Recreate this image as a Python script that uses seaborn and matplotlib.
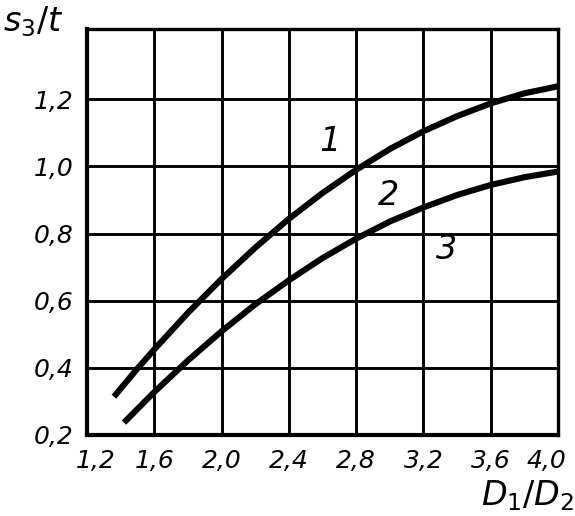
import numpy as np
import pandas as pd
import seaborn as sns
import matplotlib
matplotlib.use("Agg")
import matplotlib.pyplot as plt
from matplotlib.transforms import ScaledTranslation

# curve values (x = D1/D2, y = s3/t)
x_upper = [1.36, 1.50, 1.60, 1.80, 2.00, 2.20, 2.40, 2.60, 2.80, 3.00, 3.20, 3.40, 3.60, 3.80, 4.00]
y_upper = [0.314, 0.398, 0.455, 0.564, 0.665, 0.758, 0.844, 0.921, 0.990, 1.052, 1.105, 1.150, 1.188, 1.218, 1.239]

x_lower = [1.42, 1.60, 1.80, 2.00, 2.20, 2.40, 2.60, 2.80, 3.00, 3.20, 3.40, 3.60, 3.80, 4.00]
y_lower = [0.237, 0.328, 0.422, 0.509, 0.589, 0.661, 0.727, 0.785, 0.836, 0.878, 0.915, 0.945, 0.968, 0.985]

x_ticks = [1.2, 1.6, 2.0, 2.4, 2.8, 3.2, 3.6, 4.0]
y_ticks = [0.2, 0.4, 0.6, 0.8, 1.0, 1.2]
x_ticklabels = ["1,2", "1,6", "2,0", "2,4", "2,8", "3,2", "3,6", "4,0"]
y_ticklabels = ["0,2", "0,4", "0,6", "0,8", "1,0", "1,2"]

curve_labels = ["1", "2", "3"]
curve_label_x = [2.645, 2.99, 3.34]
curve_label_y = [1.075, 0.915, 0.752]

sns.set_style("white")
plt.rcParams['font.family'] = ['DejaVu Sans']
plt.rcParams['mathtext.fontset'] = 'dejavusans'
plt.rcParams['text.color'] = 'black'
plt.rcParams['xtick.color'] = 'black'
plt.rcParams['ytick.color'] = 'black'

df_upper = pd.DataFrame({'x': x_upper, 'y': y_upper})
df_lower = pd.DataFrame({'x': x_lower, 'y': y_lower})

fig = plt.figure(figsize=(5.75, 5.16), dpi=100)
ax = fig.add_axes([0.1513, 0.157, 0.8191, 0.787])

sns.lineplot(data=df_upper, x='x', y='y', ax=ax, color='black', lw=4.4,
             estimator=None, sort=False, solid_capstyle='butt')
sns.lineplot(data=df_lower, x='x', y='y', ax=ax, color='black', lw=4.4,
             estimator=None, sort=False, solid_capstyle='butt')

ax.set_xlim(1.2, 4.0)
ax.set_ylim(0.2, 1.41)
ax.set_xticks(x_ticks)
ax.set_yticks(y_ticks)
ax.set_xticklabels(x_ticklabels, fontsize=18, style='italic', color='black')
ax.set_yticklabels(y_ticklabels, fontsize=18, style='italic', color='black')
ax.tick_params(length=0, pad=10)
ax.set_xlabel('')
ax.set_ylabel('')
ax.grid(True, color='black', lw=2.1)
ax.set_axisbelow(True)
for side in ax.spines:
    ax.spines[side].set_color('black')
    ax.spines[side].set_linewidth(2.4)
ax.spines['left'].set_linewidth(3.0)
ax.spines['bottom'].set_linewidth(3.0)

# nudge the end labels inwards like in the drawing
xlabels = ax.get_xticklabels()
xlabels[0].set_transform(xlabels[0].get_transform() + ScaledTranslation(6 / 72, 0, fig.dpi_scale_trans))
xlabels[-1].set_transform(xlabels[-1].get_transform() + ScaledTranslation(-8 / 72, 0, fig.dpi_scale_trans))

for lab, lx, ly in zip(curve_labels, curve_label_x, curve_label_y):
    ax.text(lx, ly, lab, fontsize=24, style='italic', ha='center', va='center', color='black')

fig.text(0.005, 0.992, r'$s_3/t$', fontsize=24, ha='left', va='top', color='black')
fig.text(0.998, 0.005, r'$D_1/D_2$', fontsize=24, ha='right', va='bottom', color='black')

fig.savefig('out.png', dpi=100)
